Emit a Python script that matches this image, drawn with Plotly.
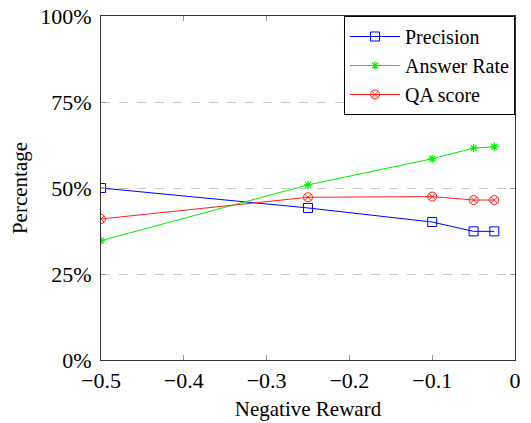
import plotly.graph_objects as go

x_vals = [-0.5, -0.25, -0.1, -0.05, -0.025]
precision = [50.0, 44.2, 40.1, 37.4, 37.4]
answer_rate = [34.7, 50.9, 58.5, 61.6, 62.0]
qa_score = [41.0, 47.3, 47.5, 46.5, 46.5]

x_ticks = [-0.5, -0.4, -0.3, -0.2, -0.1, 0]
x_tick_text = ["−0.5", "−0.4", "−0.3", "−0.2", "−0.1", "0"]
y_ticks = [0, 25, 50, 75, 100]
y_tick_text = ["0%", "25%", "50%", "75%", "100%"]

font = "'Liberation Serif', 'Times New Roman', Times, serif"

fig = go.Figure()
fig.add_trace(go.Scatter(x=x_vals, y=precision, name="Precision", mode="lines+markers",
                         line=dict(color="blue", width=1),
                         marker=dict(symbol="square-open", size=9, color="blue", line=dict(width=1))))
fig.add_trace(go.Scatter(x=x_vals, y=answer_rate, name="Answer Rate", mode="lines+markers",
                         line=dict(color="#00f000", width=1),
                         marker=dict(symbol="asterisk-open", size=7, color="#00f000", line=dict(width=1.2))))
fig.add_trace(go.Scatter(x=x_vals, y=qa_score, name="QA score", mode="lines+markers",
                         line=dict(color="#ff2020", width=1),
                         marker=dict(symbol="circle-x-open", size=9, color="#ff2020", line=dict(width=1))))

fig.update_layout(
    width=531, height=423,
    margin=dict(l=101, r=16, t=16, b=63, autoexpand=False),
    paper_bgcolor="white", plot_bgcolor="white",
    font=dict(family=font, size=22, color="black"),
    showlegend=True,
    legend=dict(x=1, y=1, xanchor="right", yanchor="top",
                bordercolor="black", borderwidth=1, bgcolor="white",
                font=dict(family=font, size=20), itemwidth=50,
                tracegroupgap=0),
)
fig.update_xaxes(range=[-0.5, 0], tickvals=x_ticks, ticktext=x_tick_text, automargin=False,
                 showline=True, linecolor="#333", linewidth=1, mirror="ticks",
                 ticks="inside", ticklen=5, tickcolor="#999", showgrid=False, zeroline=False,
                 ticklabelstandoff=1,
                 title=dict(text="Negative Reward", font=dict(family=font, size=21), standoff=8))
fig.update_yaxes(range=[0, 100], tickvals=y_ticks, ticktext=y_tick_text, automargin=False,
                 showline=True, linecolor="#333", linewidth=1, mirror="ticks",
                 ticks="inside", ticklen=5, tickcolor="#999", ticklabelstandoff=4,
                 showgrid=True, gridcolor="#c8c8c8", griddash="dash", gridwidth=1, zeroline=False,
                 title=dict(text="Percentage", font=dict(family=font, size=21), standoff=6))

fig.write_html("out.html", config={"displayModeBar": False},
               post_script="document.body.style.margin='0';document.body.style.overflow='hidden';")
